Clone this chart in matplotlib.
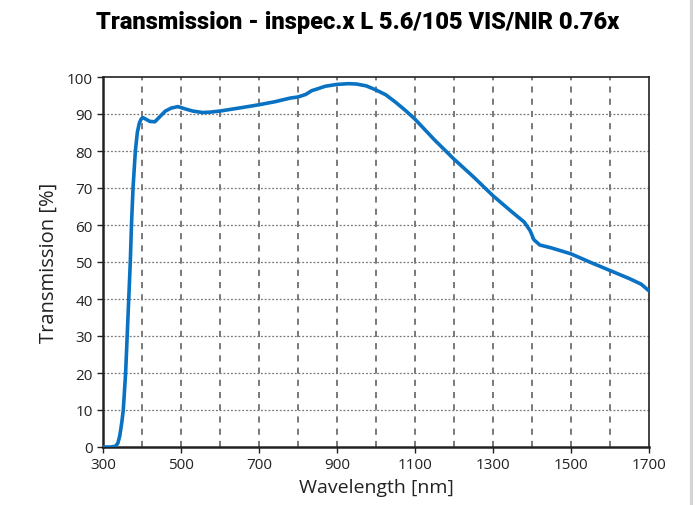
import matplotlib
matplotlib.use("Agg")
import matplotlib.pyplot as plt
from matplotlib.lines import Line2D

wavelength = [300, 320, 332, 338, 343, 348, 352, 358, 362, 366, 370, 373, 377, 383, 388, 393, 398, 403, 410,
              420, 433, 445, 460, 475, 492, 510, 530, 555, 574, 600, 630, 660, 700, 740, 780, 800,
              820, 835, 850, 870, 900, 930, 950, 975, 1000, 1025, 1050, 1075, 1100, 1150,
              1200, 1250, 1300, 1350, 1380, 1395, 1405, 1420, 1450, 1500, 1550, 1600, 1650, 1680, 1700]
transmission = [0, 0, 0.2, 1.0, 3.0, 6.5, 10, 20, 30, 40, 50, 60, 70, 80, 85, 87.5, 88.7, 89, 88.6,
                88.0, 87.9, 89.2, 90.8, 91.6, 92.0, 91.4, 90.8, 90.4, 90.5, 90.8, 91.3, 91.8, 92.5, 93.3, 94.3, 94.6,
                95.3, 96.3, 96.8, 97.5, 98.0, 98.2, 98.1, 97.6, 96.5, 95.2, 93.2, 91.0, 88.6, 83.0,
                77.8, 73.0, 67.9, 63.4, 60.8, 58.5, 56.0, 54.6, 53.8, 52.2, 49.9, 47.7, 45.5, 44.0, 42.2]

x_ticks = [300, 500, 700, 900, 1100, 1300, 1500, 1700]
y_ticks = [0, 10, 20, 30, 40, 50, 60, 70, 80, 90, 100]
x_grid = [400, 500, 600, 700, 800, 900, 1000, 1100, 1200, 1300, 1400, 1500, 1600]

fig = plt.figure(figsize=(7.0, 5.06), dpi=100)
ax = fig.add_axes([103/700, 58/506, 546/700, 370/506])

for xv in x_grid:
    ax.axvline(xv, color="#555555", lw=1.1, ls=(0, (4, 4)), zorder=1)
for yv in y_ticks[1:-1]:
    ax.axhline(yv, color="#777777", lw=0.9, ls=(0, (1.5, 1.5)), zorder=1)

ax.plot(wavelength, transmission, color="#0a72c2", lw=2.6, zorder=3, solid_capstyle="round")

ax.set_xlim(300, 1700)
ax.set_ylim(0, 100)
ax.set_xticks(x_ticks)
ax.set_yticks(y_ticks)
ax.tick_params(axis="both", labelsize=11, colors="#222222", length=4, width=1)
for lab in ax.get_xticklabels() + ax.get_yticklabels():
    lab.set_fontfamily("Open Sans")
for s in ["left", "bottom"]:
    ax.spines[s].set_linewidth(1.8)
    ax.spines[s].set_color("#222222")
for s in ["top", "right"]:
    ax.spines[s].set_linewidth(1.2)
    ax.spines[s].set_color("#222222")

ax.set_xlabel("Wavelength [nm]", fontsize=14, family="Open Sans", color="#222222", labelpad=4)
ax.set_ylabel("Transmission [%]", fontsize=14.5, family="Open Sans", color="#222222", labelpad=6)

fig.text(358/700, 1 - 22/506, "Transmission - inspec.x L 5.6/105 VIS/NIR 0.76x",
         ha="center", va="center", fontsize=17, fontweight="black", family="Roboto", color="#000000")

fig.add_artist(Line2D([691/700, 691/700], [0, 1], transform=fig.transFigure, color="#d4d4d4", lw=2.2))

fig.savefig("out.png", dpi=100)
